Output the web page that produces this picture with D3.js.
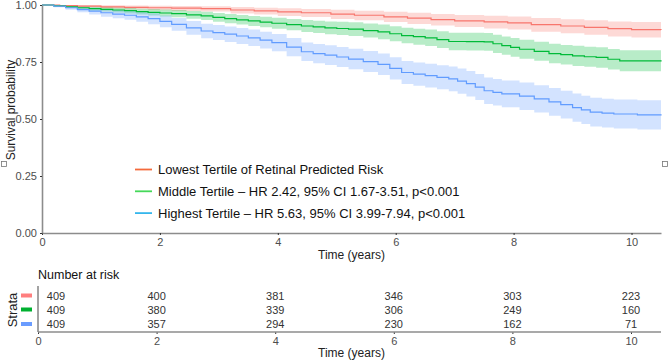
<!DOCTYPE html>
<html><head><meta charset="utf-8">
<script src="https://cdn.jsdelivr.net/npm/d3@7"></script>
<style>body{margin:0;background:#fff}svg{display:block;font-family:"Liberation Sans",Arial,sans-serif}</style>
</head><body><svg id="c" width="669" height="360"></svg>
<script>
// ---- data ----
const redT  = [0,0.3,0.6,1.0,1.4,1.8,2.2,2.7,3.2,3.6,4.0,4.4,4.9,5.3,5.8,6.2,6.6,7.0,7.5,7.9,8.3,8.8,9.2,9.6,10.0,10.5];
const redS  = [1,0.997,0.995,0.992,0.99,0.988,0.986,0.984,0.978,0.974,0.97,0.966,0.96,0.955,0.948,0.942,0.936,0.93,0.926,0.922,0.914,0.908,0.902,0.896,0.892,0.89];
const redLo = [1,0.994,0.990,0.985,0.981,0.977,0.974,0.971,0.963,0.958,0.952,0.947,0.939,0.933,0.925,0.917,0.910,0.903,0.897,0.892,0.883,0.876,0.869,0.862,0.857,0.855];
const redHi = [1,1,1,0.999,0.998,0.997,0.996,0.995,0.991,0.988,0.986,0.983,0.979,0.975,0.970,0.966,0.961,0.956,0.953,0.950,0.943,0.938,0.933,0.928,0.925,0.923];

const greenT  = [0,0.2,0.4,0.6,0.8,1.0,1.2,1.4,1.6,1.8,2.0,2.2,2.45,2.7,2.9,3.1,3.3,3.5,3.7,3.9,4.15,4.4,4.6,4.8,5.0,5.2,5.45,5.7,5.9,6.1,6.3,6.5,6.7,6.9,7.2,7.5,7.65,7.8,7.95,8.1,8.35,8.6,8.8,9.0,9.2,9.4,9.6,9.8,10.5];
const greenS  = [1,0.996,0.992,0.988,0.984,0.981,0.978,0.975,0.971,0.968,0.965,0.962,0.957,0.952,0.946,0.94,0.935,0.93,0.925,0.92,0.914,0.908,0.904,0.9,0.897,0.894,0.888,0.882,0.874,0.866,0.861,0.856,0.848,0.84,0.839,0.838,0.83,0.822,0.814,0.806,0.797,0.787,0.782,0.777,0.773,0.77,0.762,0.755,0.752];
const greenLo = [1,0.993,0.987,0.981,0.975,0.971,0.967,0.963,0.958,0.954,0.95,0.946,0.94,0.934,0.927,0.92,0.914,0.908,0.902,0.896,0.889,0.882,0.877,0.872,0.868,0.864,0.857,0.85,0.841,0.832,0.826,0.82,0.811,0.802,0.8,0.799,0.79,0.782,0.773,0.764,0.755,0.744,0.739,0.733,0.729,0.725,0.717,0.709,0.706];
const greenHi = [1,0.999,0.997,0.995,0.993,0.991,0.989,0.987,0.984,0.982,0.98,0.978,0.974,0.97,0.965,0.96,0.956,0.952,0.948,0.944,0.939,0.934,0.931,0.928,0.926,0.924,0.919,0.914,0.907,0.9,0.896,0.892,0.885,0.878,0.878,0.877,0.87,0.862,0.855,0.848,0.839,0.83,0.825,0.821,0.817,0.815,0.807,0.801,0.798];

const blueT  = [0,0.2,0.4,0.6,0.8,1.0,1.2,1.4,1.6,1.8,2.0,2.2,2.45,2.7,2.9,3.1,3.3,3.5,3.7,3.9,4.15,4.4,4.6,4.8,5.0,5.2,5.45,5.7,5.9,6.1,6.3,6.5,6.7,6.9,7.05,7.2,7.35,7.5,7.65,7.8,8.1,8.35,8.6,8.8,9.0,9.15,9.3,9.5,9.7,10.1,10.5];
const blueS  = [1,0.995,0.988,0.98,0.973,0.966,0.96,0.955,0.948,0.94,0.928,0.915,0.9,0.886,0.879,0.872,0.864,0.856,0.846,0.835,0.815,0.795,0.787,0.78,0.772,0.763,0.752,0.74,0.722,0.704,0.697,0.69,0.683,0.676,0.666,0.655,0.64,0.624,0.617,0.61,0.6,0.588,0.575,0.563,0.55,0.54,0.53,0.526,0.522,0.518,0.515];
const blueLo = [1,0.99,0.979,0.968,0.958,0.949,0.942,0.935,0.926,0.916,0.902,0.887,0.87,0.854,0.846,0.838,0.829,0.82,0.809,0.797,0.775,0.754,0.745,0.737,0.728,0.718,0.706,0.693,0.673,0.654,0.646,0.638,0.63,0.622,0.611,0.599,0.583,0.566,0.559,0.551,0.54,0.528,0.514,0.502,0.488,0.478,0.467,0.463,0.458,0.454,0.45];
const blueHi = [1,1,0.997,0.992,0.988,0.983,0.978,0.975,0.97,0.964,0.954,0.943,0.93,0.918,0.912,0.906,0.899,0.892,0.883,0.873,0.855,0.836,0.829,0.823,0.816,0.808,0.798,0.787,0.771,0.754,0.748,0.742,0.736,0.73,0.721,0.711,0.697,0.682,0.675,0.669,0.66,0.648,0.636,0.624,0.612,0.602,0.593,0.589,0.586,0.582,0.58];

const legendLabels = ["Lowest Tertile of Retinal Predicted Risk",
  "Middle Tertile \u2013 HR 2.42, 95% CI 1.67-3.51, p<0.001",
  "Highest Tertile \u2013 HR 5.63, 95% CI 3.99-7.94, p<0.001"];
const xTicks = [0,2,4,6,8,10];
const yTicks = [0,0.25,0.5,0.75,1];
const riskTimes = [0,2,4,6,8,10];
const riskRed   = [409,400,381,346,303,223];
const riskGreen = [409,380,339,306,249,160];
const riskBlue  = [409,357,294,230,162,71];

// ---- styles ----
const lineCols = ["#F8766D","#00BA38","#619CFF"];
const bandCols = ["#F8766D","#00BA38","#619CFF"];
const legCols  = ["#F46A3C","#45D85A","#35B6EC"];
const stratCols= ["#FF7F7F","#00B030","#6A9CFF"];

const svg = d3.select("#c");
const x = d3.scaleLinear().domain([0,10.5]).range([42,661]);
const y = d3.scaleLinear().domain([0,1]).range([233,5]);

const series = [
  {t:redT,s:redS,lo:redLo,hi:redHi},
  {t:greenT,s:greenS,lo:greenLo,hi:greenHi},
  {t:blueT,s:blueS,lo:blueLo,hi:blueHi}
];

series.forEach((d,i)=>{
  const pts = d.t.map((t,k)=>({t,lo:d.lo[k],hi:d.hi[k]}));
  svg.append("path").datum(pts)
    .attr("fill",bandCols[i]).attr("fill-opacity",0.28)
    .attr("d",d3.area().curve(d3.curveStepAfter).x(p=>x(p.t)).y0(p=>y(p.lo)).y1(p=>y(p.hi)));
});
series.forEach((d,i)=>{
  const pts = d.t.map((t,k)=>({t,s:d.s[k]}));
  svg.append("path").datum(pts)
    .attr("fill","none").attr("stroke",lineCols[i]).attr("stroke-width",1.2)
    .attr("d",d3.line().curve(d3.curveStepAfter).x(p=>x(p.t)).y(p=>y(p.s)));
});

const tickCol = "#4d4d4d";
function styleAxis(g){
  g.select(".domain").attr("stroke","#8c8c8c").attr("stroke-width",1.6);
  g.selectAll(".tick line").attr("stroke","#333");
  g.selectAll(".tick text").attr("fill",tickCol).attr("font-size",11).attr("font-family","Liberation Sans, Arial, sans-serif");
}
svg.append("g").attr("transform","translate(0,233)")
  .call(d3.axisBottom(x).tickValues(xTicks).tickSize(2).tickSizeOuter(0).tickPadding(3).tickFormat(d3.format("d")))
  .call(styleAxis);
svg.append("g").attr("transform","translate(42,0)")
  .call(d3.axisLeft(y).tickValues(yTicks).tickSize(2).tickSizeOuter(0).tickPadding(3).tickFormat(d3.format(".2f")))
  .call(styleAxis);

svg.append("text").attr("x",351.5).attr("y",259).attr("text-anchor","middle")
  .attr("font-size",12).attr("fill","#222").text("Time (years)");
svg.append("text").attr("transform","translate(15,110) rotate(-90)").attr("text-anchor","middle")
  .attr("font-size",12).attr("fill","#222").text("Survival probability");

svg.append("rect").attr("x",1.5).attr("y",161.5).attr("width",5).attr("height",5).attr("fill","none").attr("stroke","#777").attr("stroke-width",0.8);
svg.append("rect").attr("x",662.5).attr("y",161.5).attr("width",5).attr("height",5).attr("fill","none").attr("stroke","#777").attr("stroke-width",0.8);

legendLabels.forEach((lab,i)=>{
  const yy = 169.5 + i*21.8;
  svg.append("line").attr("x1",135).attr("x2",152).attr("y1",yy).attr("y2",yy)
    .attr("stroke",legCols[i]).attr("stroke-width",1.8);
  svg.append("text").attr("x",158).attr("y",yy+4.5).attr("font-size",13).attr("fill","#111").text(lab);
});

const xr = d3.scaleLinear().domain([0,10]).range([38,631]);
svg.append("text").attr("x",38).attr("y",279).attr("font-size",12.5).attr("fill","#111").text("Number at risk");
const rows = [riskRed,riskGreen,riskBlue];
const rowY = [295.5,309.5,324];
rows.forEach((r,i)=>{
  r.forEach((v,k)=>{
    const px = k===0 ? xr(riskTimes[k])+18 : xr(riskTimes[k]);
    svg.append("text").attr("x",px).attr("y",rowY[i]+4).attr("text-anchor","middle")
      .attr("font-size",11).attr("fill","#333").text(v);
  });
  svg.append("line").attr("x1",21).attr("x2",32).attr("y1",rowY[i]).attr("y2",rowY[i])
    .attr("stroke",stratCols[i]).attr("stroke-width",4);
});
svg.append("line").attr("x1",38).attr("x2",38).attr("y1",286).attr("y2",332).attr("stroke","#8c8c8c").attr("stroke-width",1.6);
svg.append("g").attr("transform","translate(0,332)")
  .call(d3.axisBottom(xr).tickValues(xTicks).tickSize(2).tickSizeOuter(0).tickPadding(3).tickFormat(d3.format("d")))
  .call(g=>{styleAxis(g); g.select(".domain").remove();});
svg.append("line").attr("x1",38).attr("x2",661).attr("y1",332).attr("y2",332).attr("stroke","#8c8c8c").attr("stroke-width",1.6);
svg.append("text").attr("x",351.5).attr("y",357).attr("text-anchor","middle")
  .attr("font-size",12).attr("fill","#222").text("Time (years)");
svg.append("text").attr("transform","translate(17,310) rotate(-90)").attr("text-anchor","middle")
  .attr("font-size",13).attr("fill","#222").text("Strata");
</script></body></html>
